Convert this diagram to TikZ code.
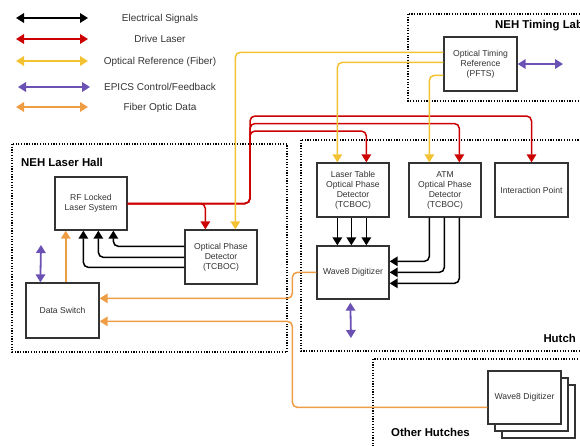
\documentclass[tikz,border=0pt]{standalone}
\usepackage{fontspec}
\setmainfont{Liberation Sans}
\usetikzlibrary{arrows.meta,calc}
\definecolor{cred}{HTML}{CC0000}
\definecolor{cyel}{HTML}{F2C233}
\definecolor{cpur}{HTML}{6A51B3}
\definecolor{corg}{HTML}{EE9D45}
\definecolor{cbox}{HTML}{333333}
\definecolor{ctxt}{HTML}{333333}
\begin{document}
\begin{tikzpicture}[x=1pt,y=-1pt,
  box/.style={draw=cbox, line width=1.3pt, fill=white, inner sep=0pt, align=center,
    text=ctxt, font=\fontsize{8.6}{10}\selectfont, minimum width=72pt, minimum height=54pt},
  zone/.style={draw=black, line width=1.2pt, dash pattern=on 1.2pt off 1.5pt},
  title/.style={inner sep=0pt, font=\bfseries\fontsize{11.4}{13}\selectfont},
  legtext/.style={inner sep=0pt, anchor=base, text=ctxt, font=\fontsize{10}{12}\selectfont},
  tip/.tip={Triangle[length=8pt,width=9.5pt]},
  conn/.style={line width=1.5pt, rounded corners=5pt, -tip},
  both/.style={line width=1.8pt, tip-tip},
]
\path[use as bounding box] (0,0) rectangle (580,445);
\clip (0,0) rectangle (580,445);

% zones
\draw[zone] (408,14) rectangle (600,101);
\draw[zone] (12,144) rectangle (287,352);
\draw[zone] (301,140) rectangle (600,351);
\draw[zone] (373,359) rectangle (600,460);
\node[title, anchor=base west] (ttl) at (495,28) {NEH Timing Lab};
\node[title, anchor=base west] (tlh) at (21,166) {NEH Laser Hall};
\node[title, anchor=base east] (thu) at (576,342) {Hutch};
\node[title, anchor=base west] (toh) at (391,436) {Other Hutches};

% legend
\foreach \i/\y/\c/\xa/\xb/\t in {1/18/black/16/88/{Electrical Signals},
    2/39/cred/16/88/{Drive Laser},
    3/61/cyel/16/88/{Optical Reference (Fiber)},
    4/87/cpur/18/90/{EPICS Control/Feedback},
    5/107/corg/16/88/{Fiber Optic Data}}{
  \coordinate (la\i) at (\xa,\y);
  \coordinate (lb\i) at (\xb,\y);
  \draw[both, \c] (la\i) -- (lb\i);
  \node[legtext] (lt\i) at (160,\y+3.6) {\t};
}

% boxes
\node[box, minimum width=73pt] (pfts) at (480.5,64) {Optical Timing\\Reference\\(PFTS)};
\node[box, minimum height=53pt] (rf) at (91,203.5) {RF Locked\\Laser System};
\node[box] (opd) at (221,257) {Optical Phase\\Detector\\(TCBOC)};
\node[box] (lt) at (353,190) {Laser Table\\Optical Phase\\Detector\\(TCBOC)};
\node[box] (atm) at (445,190) {ATM\\Optical Phase\\Detector\\(TCBOC)};
\node[box, minimum width=73pt] (ip) at (531.5,190) {Interaction Point};
\node[box, minimum height=53pt] (w8) at (353,272.5) {Wave8 Digitizer};
\node[box, minimum width=73pt, minimum height=55pt] (ds) at (62.5,310.5) {Data Switch};
\node[box, minimum width=73pt, minimum height=53pt] (ow8c) at (538.5,411.5) {};
\node[box, minimum width=73pt, minimum height=53pt] (ow8b) at (531.5,404.5) {};
\node[box, minimum width=73pt, minimum height=53pt] (ow8) at (524.5,397.5) {Wave8 Digitizer};

% drive laser (red)
\draw[conn, cred] (rf.east) -| ($(opd.north west)+(21,0)$);
\draw[conn, cred] (rf.east) -- (250,203.5) -- (250,131) -| ($(lt.north west)+(50,0)$);
\draw[conn, cred] (rf.east) -- (250,203.5) -- (250,123.5) -| ($(atm.north west)+(51,0)$);
\draw[conn, cred] (rf.east) -- (250,203.5) -- (250,116) -| (ip.north);

% optical reference (yellow)
\draw[conn, cyel] ($(pfts.north west)+(0,16)$) -| ($(opd.north west)+(51,0)$);
\draw[conn, cyel] ($(pfts.north west)+(0,26)$) -| ($(lt.north west)+(21,0)$);
\draw[conn, cyel] ($(pfts.north west)+(0,39)$) -| ($(atm.north west)+(21,0)$);

% electrical (black)
\foreach \dx in {21,35,50}{
  \draw[conn, black] ($(lt.south west)+(\dx,0)$) -- ($(w8.north west)+(\dx,0)$);
}
\draw[conn, black] ($(atm.south west)+(21,0)$) |- ($(w8.north east)+(0,16)$);
\draw[conn, black] ($(atm.south west)+(36,0)$) |- ($(w8.north east)+(0,27)$);
\draw[conn, black] ($(atm.south west)+(51,0)$) |- ($(w8.north east)+(0,38)$);
\draw[conn, black] ($(opd.north west)+(0,17)$) -| ($(rf.south west)+(59,0)$);
\draw[conn, black] ($(opd.north west)+(0,28)$) -| ($(rf.south west)+(44,0)$);
\draw[conn, black] ($(opd.north west)+(0,38)$) -| ($(rf.south west)+(29,0)$);

% fiber optic data (orange)
\draw[conn, corg] ($(w8.north west)+(0,27)$) -- ++(-24,0) |- ($(ds.north east)+(0,16)$);
\draw[conn, corg] ($(ow8.north west)+(0,37)$) -- ++(-195,0) |- ($(ds.north east)+(0,39)$);
\draw[conn, corg] ($(ds.north west)+(40.4,0)$) -- ($(rf.south west)+(11.4,0)$);

% EPICS (purple)
\coordinate (pe) at (563,64);
\draw[both, cpur] (pfts.east) -- (pe);
\coordinate (dse) at (41,245);
\draw[both, cpur] (dse) -- ($(ds.north west)+(15,0)$);
\coordinate (w8e) at (351,338);
\draw[both, cpur] ($(w8.south west)+(34,3)$) -- (w8e);
\end{tikzpicture}
\end{document}
